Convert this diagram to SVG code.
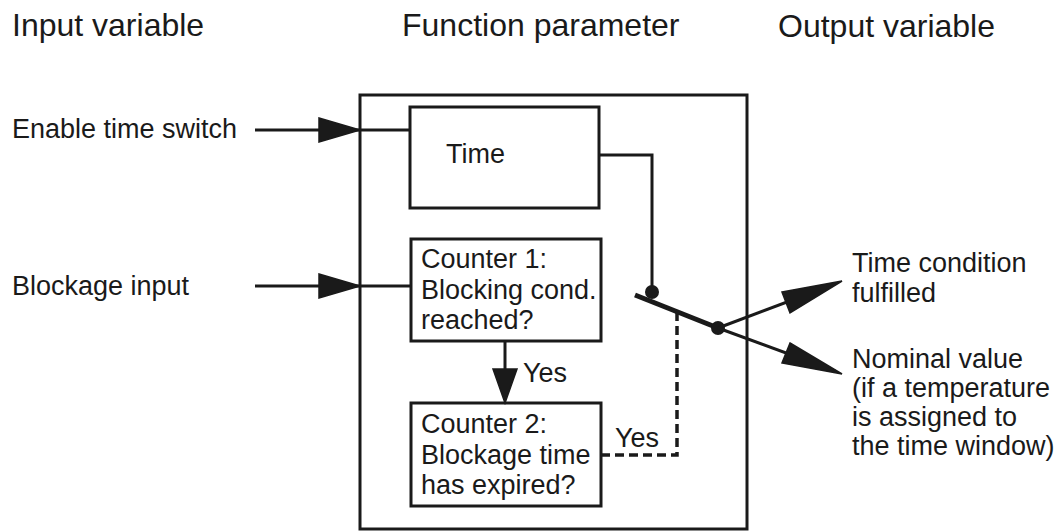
<svg xmlns="http://www.w3.org/2000/svg" width="1059" height="531" viewBox="0 0 1059 531">
<style>
text{font-family:"Liberation Sans",Arial,sans-serif;fill:#1a1a1a}
.h{font-size:32px}
.t{font-size:27px}
.box{fill:#fff;stroke:#1a1a1a;stroke-width:3}
.ln{fill:none;stroke:#1a1a1a;stroke-width:3}
.lever{fill:none;stroke:#1a1a1a;stroke-width:5}
.dash{fill:none;stroke:#1a1a1a;stroke-width:3.5;stroke-dasharray:9 5}
.head{fill:#1a1a1a;stroke:#1a1a1a;stroke-width:1.5;stroke-linejoin:miter}
.dot{fill:#1a1a1a}
</style>
<rect width="1059" height="531" fill="#fff"/>
<g id="headers">
<text class="h" x="12" y="36">Input variable</text>
<text class="h" x="402" y="36">Function parameter</text>
<text class="h" x="778" y="37">Output variable</text>
</g>
<g id="function-frame">
<rect class="box" x="360" y="95" width="387" height="434"/>
</g>
<g id="input-enable">
<text class="t" x="12" y="138">Enable time switch</text>
</g>
<g id="input-blockage">
<text class="t" x="12" y="295">Blockage input</text>
</g>
<g id="node-time">
<rect class="box" x="410" y="107" width="189" height="101"/>
<text class="t" x="446" y="163">Time</text>
</g>
<g id="node-counter1">
<rect class="box" x="411" y="239" width="190" height="102"/>
<text class="t" x="421" y="268">Counter 1:</text>
<text class="t" x="421" y="299">Blocking cond.</text>
<text class="t" x="421" y="329">reached?</text>
</g>
<g id="node-counter2">
<rect class="box" x="411" y="403" width="190" height="103"/>
<text class="t" x="421" y="433">Counter 2:</text>
<text class="t" x="421" y="464">Blockage time</text>
<text class="t" x="421" y="494">has expired?</text>
</g>
<g id="output-time-condition">
<text class="t" x="852" y="272">Time condition</text>
<text class="t" x="852" y="302">fulfilled</text>
</g>
<g id="output-nominal">
<text class="t" x="852" y="368">Nominal value</text>
<text class="t" x="852" y="397">(if a temperature</text>
<text class="t" x="852" y="426">is assigned to</text>
<text class="t" x="852" y="455">the time window)</text>
</g>
<g id="connectors">
<line class="ln" x1="255" y1="130" x2="410" y2="130"/>
<polygon class="head" points="319,118 360,130 319,142"/>
<line class="ln" x1="255" y1="286" x2="411" y2="286"/>
<polygon class="head" points="319,274 360,286 319,298"/>
<line class="ln" x1="505" y1="341" x2="505" y2="372"/>
<polygon class="head" points="493,369 517,369 505,403"/>
<text class="t" x="523" y="382">Yes</text>
<polyline class="ln" points="599,155 652,155 652,292"/>
<circle class="dot" cx="652" cy="292" r="7"/>
<line class="lever" x1="635" y1="295" x2="718" y2="328"/>
<polyline class="dash" points="601,455 677,455 677,313"/>
<text class="t" x="615" y="447">Yes</text>
<circle class="dot" cx="718" cy="328" r="7"/>
<line class="ln" x1="718" y1="328" x2="835" y2="284"/>
<polygon class="head" points="782,292 842,281 790,313"/>
<line class="ln" x1="718" y1="328" x2="835" y2="371"/>
<polygon class="head" points="790,343 842,374 782,363"/>
</g>
</svg>
